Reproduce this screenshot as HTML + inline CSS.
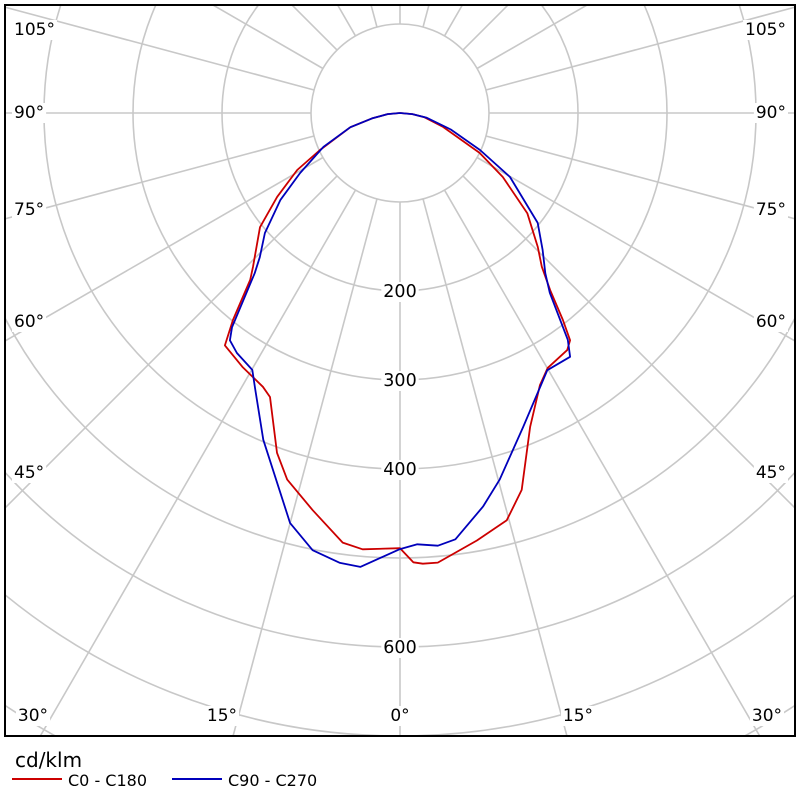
<!DOCTYPE html>
<html><head><meta charset="utf-8"><style>
html,body{margin:0;padding:0;width:800px;height:800px;overflow:hidden;background:#fff;font-family:"DejaVu Sans","Liberation Sans",sans-serif}
svg{display:block}
svg text{font-family:"DejaVu Sans","Liberation Sans",sans-serif}
</style></head><body>
<svg id="chart" width="800" height="800" viewBox="0 0 800 800" xmlns="http://www.w3.org/2000/svg">
<defs><clipPath id="clip"><rect x="6" y="6" width="788" height="729"/></clipPath></defs>
<rect x="0" y="0" width="800" height="800" fill="#fff"/>
<g id="grid" clip-path="url(#clip)"></g>
<g id="labels"></g>
<g id="series" clip-path="url(#clip)"></g>
<rect x="5" y="5" width="790" height="731" fill="none" stroke="#000" stroke-width="2"/>
<text x="15" y="767" font-size="20" fill="#000">cd/klm</text>
<g>
<line x1="12" y1="779" x2="62" y2="779" stroke="#cc0000" stroke-width="2"/>
<text x="68" y="786" font-size="16" fill="#000">C0 - C180</text></g>
<g>
<line x1="172" y1="779" x2="222" y2="779" stroke="#0000bb" stroke-width="2"/>
<text x="228" y="786" font-size="16" fill="#000">C90 - C270</text></g>
</svg>
<script>
const ringValues=[100,200,300,400,500,600,700,800,900,1000];
const ringLabels=[200,300,400,600];
const spokeAngles=[0,15,30,45,60,75,90,105,120,135,150,165,180];
const sideLabels=[["105°",30],["90°",113],["75°",210],["60°",322],["45°",473]];
const bottomLabels=[["0°",0],["15°",178],["15°",-178],["30°",367],["30°",-367]];

const redLeftAng=[0,4.9,7.6,12.4,17.1,19.9,24.6,26.6,31.7,37.0,38.9,41.9,43.7,50.8,55.7,61,65.2,74,79,85,90];
const redLeftVal=[489,492,487,457,431,406,351,344,336,327,299,252,239,203,167,132,99,58,32,14,0];
const redRightAng=[0,1.7,2.9,4.8,10.2,14.7,17.9,22.5,27.2,30.1,35.2,36.8,38.2,40.3,42.7,45.8,51.8,58.1,63.4,72,80,85,90];
const redRightVal=[489,505,507,507,488,473,445,382,344,331,326,319,296,261,235,216,182,136,100,51,28,14,0];
const blueLeftAng=[0,5,7.6,11.3,15,22.7,27.6,29.9,34.2,36.8,38.1,42.2,44.2,48.4,54,59,66.2,74,79,85,90];
const blueLeftVal=[490,512,510,501,477,398,351,333,326,319,306,243,226,203,166,131,94,58,32,14,0];
const blueRightAng=[0,2.3,5,7.4,11.9,15.2,21.4,29.8,34.9,36.5,39.8,42.2,46.2,51.4,59.8,65.2,72,80,85,90];
const blueRightVal=[490,485,488,483,452,427,379,333,334,317,263,243,222,198,143,99,60,30,14,0];

const CX=400, CY=113, K=0.89;
const NS="http://www.w3.org/2000/svg";
function rScale(v){return v*K;}
function px(theta,v,side){const a=theta*Math.PI/180;return CX+side*rScale(v)*Math.sin(a);}
function py(theta,v){const a=theta*Math.PI/180;return CY+rScale(v)*Math.cos(a);}
function mk(tag,attrs,parent){const e=document.createElementNS(NS,tag);for(const k in attrs)e.setAttribute(k,attrs[k]);parent.appendChild(e);return e;}

const grid=document.getElementById('grid');
ringValues.forEach(v=>{
  const c=mk('circle',{cx:CX,cy:CY,r:rScale(v),fill:'none',stroke:'#c8c8c8','stroke-width':1.6},grid);
  
  
});
spokeAngles.forEach(t=>{
  [1,-1].forEach(s=>{
    if((t===0||t===180)&&s===-1)return;
    const l=mk('line',{x1:px(t,100,s),y1:py(t,100),x2:px(t,1200,s),y2:py(t,1200),stroke:'#c8c8c8','stroke-width':1.6},grid);
    
    
  });
});

const labels=document.getElementById('labels');
function label(txt,x,y,anchor,name,fs){
  const t=mk('text',{x:x,y:y,'font-size':fs,fill:'#000','text-anchor':anchor,'dominant-baseline':'central'},labels);
  t.textContent=txt;
  const bb=t.getBBox();
  const bg=mk('rect',{x:bb.x-2,y:bb.y,width:bb.width+4,height:bb.height,fill:'#fff'},labels);
  labels.insertBefore(bg,t);
  
  
}
ringLabels.forEach(v=>label(String(v),CX,CY+rScale(v)+1,'middle','ring-label-'+v,17.5));
sideLabels.forEach(([s,y])=>{label(s,14,y,'start','angle-label-left-'+s,17);label(s,786,y,'end','angle-label-right-'+s,17);});
bottomLabels.forEach(([s,dx])=>label(s,CX+dx,716,'middle','angle-label-bottom-'+s,17));

const series=document.getElementById('series');
function drawSeries(la,lv,ra,rv,color,name){
  const pts=[];
  for(let i=la.length-1;i>=0;i--)pts.push(px(la[i],lv[i],-1).toFixed(1)+','+py(la[i],lv[i]).toFixed(1));
  for(let i=0;i<ra.length;i++)pts.push(px(ra[i],rv[i],1).toFixed(1)+','+py(ra[i],rv[i]).toFixed(1));
  const p=mk('polyline',{points:pts.join(' '),fill:'none',stroke:color,'stroke-width':1.8,'stroke-linejoin':'round'},series);
  
  
}
drawSeries(redLeftAng,redLeftVal,redRightAng,redRightVal,'#cc0000','series-c0-c180');
drawSeries(blueLeftAng,blueLeftVal,blueRightAng,blueRightVal,'#0000bb','series-c90-c270');
</script>
</body></html>
